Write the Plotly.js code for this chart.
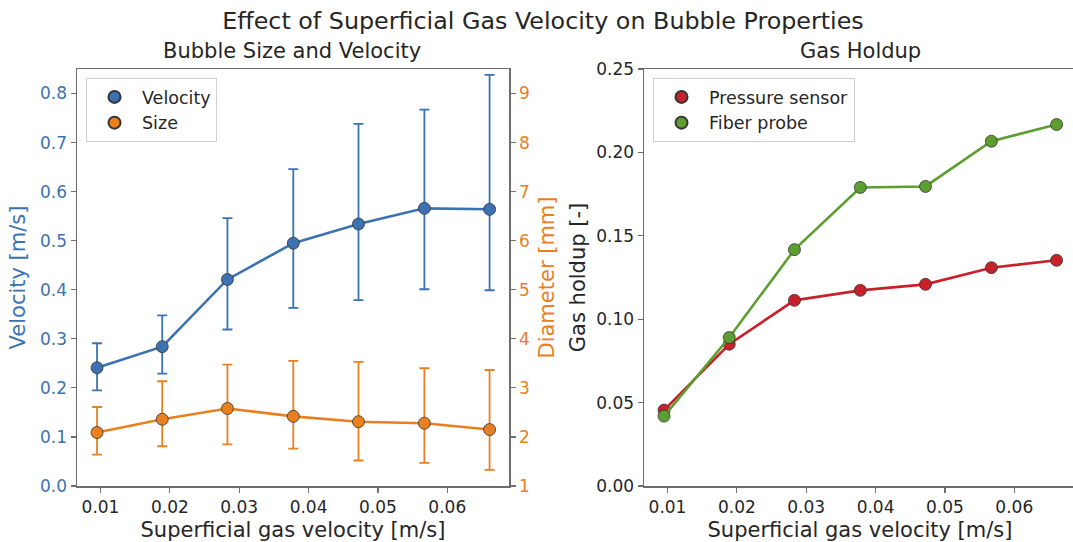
<!DOCTYPE html>
<html>
<head>
<meta charset="utf-8">
<script src="https://cdn.plot.ly/plotly-3.0.1.min.js"></script>
<style>
html, body { margin: 0; padding: 0; overflow: hidden; background: #ffffff; }
#chart { width: 1080px; height: 542px; }
</style>
</head>
<body>
<div id="chart"></div>
<script>
// Superficial gas velocity [m/s]
const gasVelocity = [0.0095, 0.0189, 0.0283, 0.0378, 0.0472, 0.0567, 0.0661];

// Bubble rise velocity [m/s] with asymmetric error bars
const bubbleVelocity = [0.241, 0.284, 0.421, 0.495, 0.534, 0.566, 0.564];
const bubbleVelocityErrPlus = [0.050, 0.064, 0.125, 0.151, 0.204, 0.201, 0.274];
const bubbleVelocityErrMinus = [0.046, 0.055, 0.102, 0.132, 0.155, 0.165, 0.165];

// Bubble diameter [mm] with asymmetric error bars
const bubbleSize = [2.09, 2.36, 2.58, 2.42, 2.31, 2.28, 2.15];
const bubbleSizeErrPlus = [0.52, 0.775, 0.895, 1.13, 1.22, 1.12, 1.215];
const bubbleSizeErrMinus = [0.45, 0.55, 0.73, 0.66, 0.79, 0.81, 0.82];

// Gas holdup [-]
const holdupPressure = [0.0455, 0.085, 0.1113, 0.1173, 0.1209, 0.1309, 0.1353];
const holdupFiber = [0.0419, 0.089, 0.1417, 0.179, 0.1796, 0.2067, 0.2167];

const xTicks = [0.01, 0.02, 0.03, 0.04, 0.05, 0.06];
const xTickLabels = ['0.01', '0.02', '0.03', '0.04', '0.05', '0.06'];
const velTicks = [0, 0.1, 0.2, 0.3, 0.4, 0.5, 0.6, 0.7, 0.8];
const velTickLabels = ['0.0', '0.1', '0.2', '0.3', '0.4', '0.5', '0.6', '0.7', '0.8'];
const diaTicks = [1, 2, 3, 4, 5, 6, 7, 8, 9];
const holdTicks = [0, 0.05, 0.10, 0.15, 0.20, 0.25];
const holdTickLabels = ['0.00', '0.05', '0.10', '0.15', '0.20', '0.25'];

const BLUE = '#3c72b2';
const ORANGE = '#e8801f';
const RED = '#c9212a';
const GREEN = '#5c9e30';
const EDGE = '#333333';
const TEXT = '#262626';
const FRAME = '#6e6e6e';
const FONT = 'DejaVu Sans, sans-serif';

const W = 1080, H = 542;
const px = v => v / W;
const py = v => 1 - v / H;

const traces = [
  {
    x: gasVelocity, y: bubbleVelocity, xaxis: 'x', yaxis: 'y',
    mode: 'lines+markers', showlegend: false,
    line: {color: BLUE, width: 2.6},
    marker: {color: BLUE, size: 12, line: {color: EDGE, width: 0.8}},
    error_y: {type: 'data', symmetric: false, array: bubbleVelocityErrPlus, arrayminus: bubbleVelocityErrMinus,
              color: BLUE, thickness: 1.8, width: 5}
  },
  {
    x: gasVelocity, y: bubbleSize, xaxis: 'x', yaxis: 'y2',
    mode: 'lines+markers', showlegend: false,
    line: {color: ORANGE, width: 2.6},
    marker: {color: ORANGE, size: 12, line: {color: EDGE, width: 0.8}},
    error_y: {type: 'data', symmetric: false, array: bubbleSizeErrPlus, arrayminus: bubbleSizeErrMinus,
              color: ORANGE, thickness: 1.8, width: 5}
  },
  {
    x: [null], y: [null], xaxis: 'x', yaxis: 'y', name: 'Velocity', legend: 'legend',
    mode: 'markers', marker: {color: BLUE, size: 11, line: {color: EDGE, width: 0.8}}
  },
  {
    x: [null], y: [null], xaxis: 'x', yaxis: 'y', name: 'Size', legend: 'legend',
    mode: 'markers', marker: {color: ORANGE, size: 11, line: {color: EDGE, width: 0.8}}
  },
  {
    x: gasVelocity, y: holdupPressure, xaxis: 'x2', yaxis: 'y3',
    mode: 'lines+markers', showlegend: false,
    line: {color: RED, width: 2.6},
    marker: {color: RED, size: 12, line: {color: EDGE, width: 0.8}}
  },
  {
    x: gasVelocity, y: holdupFiber, xaxis: 'x2', yaxis: 'y3',
    mode: 'lines+markers', showlegend: false,
    line: {color: GREEN, width: 2.6},
    marker: {color: GREEN, size: 12, line: {color: EDGE, width: 0.8}}
  },
  {
    x: [null], y: [null], xaxis: 'x2', yaxis: 'y3', name: 'Pressure sensor', legend: 'legend2',
    mode: 'markers', marker: {color: RED, size: 11, line: {color: EDGE, width: 0.8}}
  },
  {
    x: [null], y: [null], xaxis: 'x2', yaxis: 'y3', name: 'Fiber probe', legend: 'legend2',
    mode: 'markers', marker: {color: GREEN, size: 11, line: {color: EDGE, width: 0.8}}
  }
];

const axisCommon = {
  showgrid: false, zeroline: false, showline: true, linecolor: FRAME, linewidth: 1.5,
  ticks: 'outside', ticklen: 5, tickwidth: 1.2, tickcolor: FRAME,
  tickfont: {family: FONT, size: 17, color: TEXT}
};

const xRange = [0.00661, 0.0689];
const LABEL = 21;

const layout = {
  width: W, height: H,
  margin: {l: 0, r: 0, t: 0, b: 0},
  paper_bgcolor: '#ffffff', plot_bgcolor: '#ffffff',
  font: {family: FONT, color: TEXT},
  showlegend: true,
  title: {text: 'Effect of Superficial Gas Velocity on Bubble Properties',
          font: {family: FONT, size: 23.8, color: TEXT},
          x: px(543), xanchor: 'center', y: py(21), yanchor: 'middle'},
  xaxis: Object.assign({}, axisCommon, {
    domain: [px(77), px(509)], range: xRange, anchor: 'y', mirror: true,
    tickmode: 'array', tickvals: xTicks, ticktext: xTickLabels,
    title: {text: 'Superficial gas velocity [m/s]', font: {family: FONT, size: LABEL, color: TEXT}, standoff: 7}
  }),
  yaxis: Object.assign({}, axisCommon, {
    domain: [py(486), py(69)], range: [0, 0.85], anchor: 'x',
    tickmode: 'array', tickvals: velTicks, ticktext: velTickLabels,
    tickfont: {family: FONT, size: 17, color: BLUE},
    title: {text: 'Velocity [m/s]', font: {family: FONT, size: LABEL, color: BLUE}, standoff: 8}
  }),
  yaxis2: Object.assign({}, axisCommon, {
    overlaying: 'y', side: 'right', anchor: 'x', range: [1, 9.5],
    tickmode: 'array', tickvals: diaTicks,
    tickfont: {family: FONT, size: 17, color: ORANGE},
    title: {text: 'Diameter [mm]', font: {family: FONT, size: LABEL, color: ORANGE}, standoff: 10}
  }),
  xaxis2: Object.assign({}, axisCommon, {
    domain: [px(644), px(1076)], range: xRange, anchor: 'y3', mirror: true,
    tickmode: 'array', tickvals: xTicks, ticktext: xTickLabels,
    title: {text: 'Superficial gas velocity [m/s]', font: {family: FONT, size: LABEL, color: TEXT}, standoff: 7}
  }),
  yaxis3: Object.assign({}, axisCommon, {
    domain: [py(486), py(69)], range: [0, 0.25], anchor: 'x2', mirror: true,
    tickmode: 'array', tickvals: holdTicks, ticktext: holdTickLabels,
    title: {text: 'Gas holdup [-]', font: {family: FONT, size: LABEL, color: TEXT}, standoff: 5}
  }),
  legend: {
    x: px(86), y: py(78), xanchor: 'left', yanchor: 'top',
    bgcolor: '#ffffff', bordercolor: '#d0d0d0', borderwidth: 1,
    font: {family: FONT, size: 17.5, color: TEXT}, itemsizing: 'constant', itemwidth: 45
  },
  legend2: {
    x: px(653), y: py(78), xanchor: 'left', yanchor: 'top',
    bgcolor: '#ffffff', bordercolor: '#d0d0d0', borderwidth: 1,
    font: {family: FONT, size: 17.5, color: TEXT}, itemsizing: 'constant', itemwidth: 45
  },
  annotations: [
    {text: 'Bubble Size and Velocity', xref: 'paper', yref: 'paper', x: px(292), y: py(51),
     xanchor: 'center', yanchor: 'middle', showarrow: false, font: {family: FONT, size: LABEL, color: TEXT}},
    {text: 'Gas Holdup', xref: 'paper', yref: 'paper', x: px(860), y: py(51),
     xanchor: 'center', yanchor: 'middle', showarrow: false, font: {family: FONT, size: LABEL, color: TEXT}}
  ]
};

Plotly.newPlot('chart', traces, layout, {displayModeBar: false, staticPlot: true});
</script>
</body>
</html>
